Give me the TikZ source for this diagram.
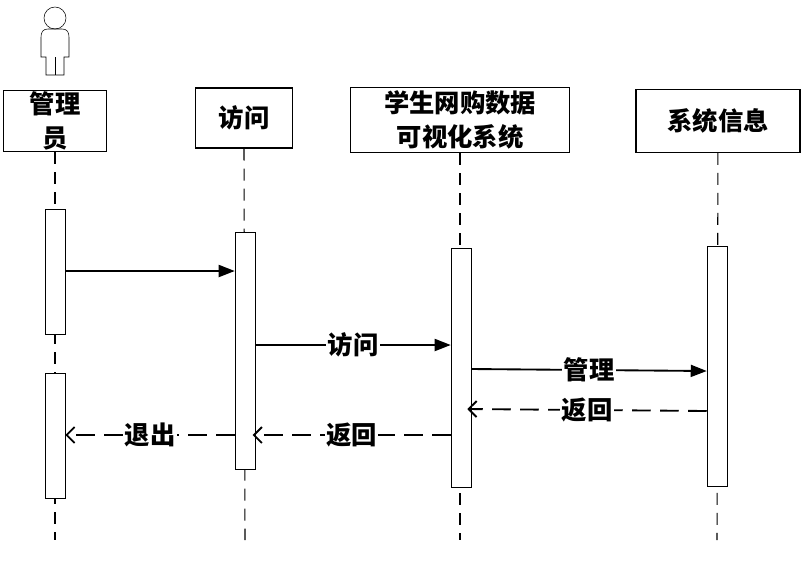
\documentclass[tikz,border=0pt]{standalone}
\usepackage{fontspec}
\newfontfamily\cjk{Noto Sans CJK SC}
\usetikzlibrary{arrows.meta,positioning}
\tikzset{
    obj/.style={rectangle, draw, thick, fill=white, align=center, font=\cjk\bfseries\fontsize{19}{25}\selectfont, inner sep=0pt},
    act/.style={rectangle, draw, fill=white, minimum width=15pt, inner sep=0pt},
    life/.style={draw, thick, dash pattern=on 9pt off 6pt},
    msg/.style={draw, line width=1.4pt, -{Triangle[length=12pt,width=9pt]}},
    ret/.style={draw, line width=1.4pt, dash pattern=on 14pt off 7pt, -{Straight Barb[length=6pt,width=12pt]}},
    lbl/.style={fill=white, font=\cjk\bfseries\fontsize{19}{21}\selectfont, inner sep=1pt}
}
\begin{document}
\begin{tikzpicture}[x=0.75pt, y=-0.75pt]
    \useasboundingbox (0,0) rectangle (802,562);
    % actor
    \draw (55,18) circle (11);
    \draw (48,29) -- (62,29) .. controls (67,29) and (69,32) .. (69,37) -- (69,57) -- (64,57) -- (64,75) -- (46,75) -- (46,57) -- (41,57) -- (41,37) .. controls (41,32) and (43,29) .. (48,29);
    \draw (55,57) -- (55,75);
    % objects
    \node [obj, minimum width=77pt, minimum height=46pt] (admin) at (55,121) {管理\\员};
    \node [obj, minimum width=73pt, minimum height=45pt] (visit) at (244,118) {访问};
    \node [obj, minimum width=164pt, minimum height=49pt] (sys) at (460,120) {学生网购数据\\可视化系统};
    \node [obj, minimum width=123pt, minimum height=47pt] (info) at (718,121) {系统信息};
    % lifelines
    \coordinate (adminend) at (55,540);
    \coordinate (visitend) at (245,540);
    \coordinate (sysend) at (460,540);
    \coordinate (infoend) at (717,540);
    \path [life] (admin) -- (adminend);
    \path [life] (visit.south) -- (visitend);
    \path [life] (sys) -- (sysend);
    \path [life] (info) -- (infoend);
    % activations
    \node [act, minimum height=94pt] (a1) at (55,272) {};
    \node [act, minimum height=94pt] (a2) at (55,436) {};
    \node [act, minimum height=178pt] (v1) at (245,351) {};
    \node [act, minimum height=179pt] (s1) at (461,368) {};
    \node [act, minimum height=180pt] (i1) at (717,366) {};
    % messages
    \path [msg] (a1.east |- 0,271) -- (v1.west |- 0,271);
    \path [msg] (v1.east |- 0,345) -- node [lbl] {访问} (s1.west |- 0,345);
    \path [msg] (s1.east |- 0,369) -- node [lbl] {管理} (i1.west |- 0,371);
    \path [ret] (i1.west |- 0,411) -- node [lbl] {返回} ([xshift=-3pt]s1.east |- 0,409);
    \path [ret] (s1.west |- 0,435) -- node [lbl] {返回} ([xshift=-2pt]v1.east |- 0,435);
    \path [ret] (v1.west |- 0,435) -- node [lbl] {退出} (a2.east |- 0,435);
\end{tikzpicture}
\end{document}
